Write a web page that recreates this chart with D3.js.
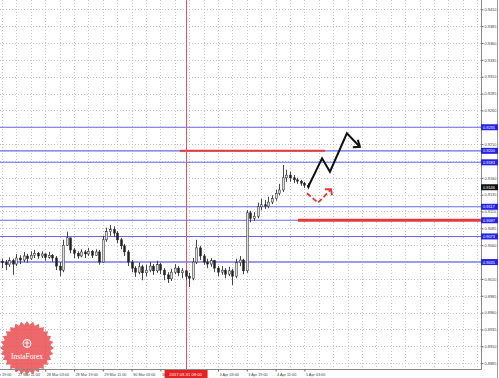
<!DOCTYPE html>
<html>
<head>
<meta charset="utf-8" />
<title>Price chart</title>
<script src="https://d3js.org/d3.v7.min.js"></script>
<style>
  body { margin: 0; background: #fff; }
  text { font-family: "Liberation Sans", Arial, sans-serif; }
</style>
</head>
<body>
<script type="text/javascript">
// 2-hour bars
var openFirst = 0.9036;
var closes = [0.9034, 0.9031, 0.9037, 0.9032, 0.9041, 0.9038, 0.9044, 0.9040, 0.9045, 0.9048,
    0.9044, 0.9047, 0.9042, 0.9045, 0.9041, 0.9029, 0.9023, 0.9060, 0.9071, 0.9053,
    0.9048, 0.9044, 0.9050, 0.9047, 0.9051, 0.9045, 0.9050, 0.9035, 0.9068, 0.9080,
    0.9083, 0.9078, 0.9068, 0.9059, 0.9050, 0.9035, 0.9026, 0.9020, 0.9028, 0.9019,
    0.9023, 0.9029, 0.9022, 0.9031, 0.9023, 0.9016, 0.9010, 0.9020, 0.9026, 0.9019,
    0.9022, 0.9014, 0.9011, 0.9035, 0.9056, 0.9044, 0.9035, 0.9032, 0.9037, 0.9026,
    0.9020, 0.9023, 0.9017, 0.9022, 0.9014, 0.9034, 0.9038, 0.9022, 0.9108, 0.9100,
    0.9103, 0.9117, 0.9120, 0.9118, 0.9124, 0.9129, 0.9137, 0.9142, 0.9160, 0.9164,
    0.9160, 0.9157, 0.9155, 0.9152, 0.9149, 0.9146];
var highs = [0.9040, 0.9038, 0.9042, 0.9040, 0.9047, 0.9045, 0.9050, 0.9047, 0.9051, 0.9053,
    0.9050, 0.9051, 0.9048, 0.9050, 0.9047, 0.9044, 0.9035, 0.9068, 0.9080, 0.9068,
    0.9056, 0.9051, 0.9054, 0.9053, 0.9056, 0.9053, 0.9054, 0.9053, 0.9074, 0.9086,
    0.9090, 0.9088, 0.9081, 0.9071, 0.9062, 0.9053, 0.9038, 0.9029, 0.9034, 0.9031,
    0.9031, 0.9035, 0.9032, 0.9037, 0.9034, 0.9026, 0.9020, 0.9025, 0.9032, 0.9029,
    0.9026, 0.9023, 0.9019, 0.9041, 0.9068, 0.9059, 0.9047, 0.9040, 0.9041, 0.9038,
    0.9029, 0.9029, 0.9026, 0.9028, 0.9025, 0.9040, 0.9044, 0.9040, 0.9112, 0.9111,
    0.9109, 0.9123, 0.9129, 0.9127, 0.9132, 0.9134, 0.9142, 0.9151, 0.9179, 0.9172,
    0.9169, 0.9164, 0.9160, 0.9157, 0.9154, 0.9152];
var lows = [0.9026, 0.9023, 0.9028, 0.9016, 0.9029, 0.9032, 0.9035, 0.9034, 0.9038, 0.9041,
    0.9040, 0.9041, 0.9037, 0.9040, 0.9035, 0.9023, 0.9014, 0.9020, 0.9059, 0.9048,
    0.9041, 0.9040, 0.9042, 0.9041, 0.9044, 0.9041, 0.9044, 0.9031, 0.9034, 0.9065,
    0.9074, 0.9072, 0.9063, 0.9054, 0.9044, 0.9029, 0.9020, 0.9013, 0.9017, 0.9008,
    0.9014, 0.9020, 0.9016, 0.9019, 0.9017, 0.9008, 0.9004, 0.9007, 0.9017, 0.9014,
    0.9011, 0.9008, 0.8998, 0.9008, 0.9032, 0.9038, 0.9031, 0.9026, 0.9028, 0.9020,
    0.9014, 0.9016, 0.9011, 0.9014, 0.9001, 0.9011, 0.9029, 0.9017, 0.9019, 0.9094,
    0.9096, 0.9100, 0.9112, 0.9114, 0.9115, 0.9121, 0.9126, 0.9134, 0.9139, 0.9154,
    0.9154, 0.9152, 0.9151, 0.9148, 0.9145, 0.9143];

var priceTicks = [0.8885, 0.8910, 0.8935, 0.8960, 0.8985, 0.9010, 0.9035, 0.9060, 0.9085, 0.9110,
    0.9135, 0.9160, 0.9185, 0.9210, 0.9235, 0.9260, 0.9285, 0.9310, 0.9335, 0.9360,
    0.9385, 0.9410];
var timeTickIdx = [-4, 4, 12, 20, 28, 36, 44, 60, 68, 76, 84];
var timeLabels = ['24 Mar 19:00', '27 Mar 11:00', '28 Mar 03:00', '28 Mar 19:00', '29 Mar 11:00',
    '30 Mar 03:00', '30 Mar 19:00', '3 Apr 03:00', '3 Apr 19:00',
    '4 Apr 11:00', '5 Apr 03:00'];

var levels = [0.9235, 0.9200, 0.9183, 0.9117, 0.9097, 0.9073, 0.9035];
// red support/resistance marks: [level, start bar, end bar]
var redLevels = [[0.9200, 49.4, 89.7], [0.9097, 82.2, 133]];
var cursorIdx = 51;
var cursorLabel = '2017.03.31 09:00';
// forecast paths
var blackPathIdx = [85, 88.9, 91.1, 95.8, 99.4];
var blackPathVal = [0.9146, 0.9189, 0.9169, 0.9226, 0.9206];
var redPathIdx = [84.7, 87.8, 91.4];
var redPathVal = [0.9137, 0.9123, 0.9143];

var width = 499;
var height = 378;
var plotRight = 481;
var plotBottom = 369.5;

var x = d3.scaleLinear().domain([0, 133]).range([2, 2 + 133 * 3.6]);
var y = d3.scaleLinear().domain([0.8885, 0.9410]).range([9.3 + 21 * 16.85, 9.3]);

var svg = d3.select('body')
    .append('svg')
    .attr('width', width)
    .attr('height', height);

// grid
var grid = svg.append('g');
grid.selectAll('.hg')
    .data(priceTicks)
    .enter()
    .append('line')
    .attr('x1', 0).attr('x2', plotRight)
    .attr('y1', d => Math.round(y(d)) + 0.5)
    .attr('y2', d => Math.round(y(d)) + 0.5)
    .attr('stroke', '#c8c8c8')
    .attr('stroke-dasharray', '1,2');

grid.selectAll('.vg')
    .data(d3.range(-4, 134, 4))
    .enter()
    .append('line')
    .attr('x1', d => Math.round(x(d)) + 0.5)
    .attr('x2', d => Math.round(x(d)) + 0.5)
    .attr('y1', 0).attr('y2', plotBottom)
    .attr('stroke', '#c8c8c8')
    .attr('stroke-dasharray', '1,2');

// logo
var logo = svg.append('g').attr('transform', 'translate(27,348)');
var star = [];
for (var k = 0; k < 56; k++) {
    var r = k % 2 === 0 ? 27 : 23.5;
    var a = k / 56 * Math.PI * 2;
    star.push([r * Math.cos(a), r * Math.sin(a)]);
}
logo.append('path')
    .attr('d', d3.line()(star) + 'Z')
    .attr('fill', '#e8474a')
    .attr('opacity', 0.82);
logo.append('circle')
    .attr('cx', 0).attr('cy', -4.5).attr('r', 4)
    .attr('fill', 'none').attr('stroke', '#fff').attr('stroke-width', 1);
logo.append('path')
    .attr('d', 'M0,-7.5V-1M-2.5,-5H2.5')
    .attr('stroke', '#fff').attr('stroke-width', 1);
logo.append('text')
    .attr('x', 0).attr('y', 11)
    .attr('text-anchor', 'middle')
    .attr('fill', '#fff')
    .style('font-family', '"Liberation Serif", serif')
    .style('font-size', '7.5px')
    .text('InstaForex');

// level lines
svg.selectAll('.lvl')
    .data(levels)
    .enter()
    .append('line')
    .attr('x1', 0).attr('x2', plotRight)
    .attr('y1', d => y(d)).attr('y2', d => y(d))
    .attr('stroke', (d, i) => i === levels.length - 1 ? '#9a9af0' : '#6868e6')
    .attr('stroke-width', (d, i) => i === levels.length - 1 ? 2 : 1.1);

svg.selectAll('.red')
    .data(redLevels)
    .enter()
    .append('line')
    .attr('x1', d => x(d[1])).attr('x2', d => Math.min(x(d[2]), plotRight))
    .attr('y1', d => y(d[0])).attr('y2', d => y(d[0]))
    .attr('stroke', '#e33b3b')
    .attr('stroke-width', (d, i) => i === 0 ? 2 : 3);

// cursor line
svg.append('line')
    .attr('x1', Math.round(x(cursorIdx)) + 0.5).attr('x2', Math.round(x(cursorIdx)) + 0.5)
    .attr('y1', 0).attr('y2', plotBottom)
    .attr('stroke', '#f05050');

// candles
var bars = svg.append('g');
closes.forEach(function (c, i) {
    var o = i === 0 ? openFirst : closes[i - 1];
    var cx = Math.round(x(i)) + 0.5;
    bars.append('line')
        .attr('x1', cx).attr('x2', cx)
        .attr('y1', y(highs[i])).attr('y2', y(lows[i]))
        .attr('stroke', '#333')
        .attr('stroke-width', 0.9);
    var top = y(Math.max(o, c));
    var h = Math.max(1, Math.abs(y(o) - y(c)));
    bars.append('rect')
        .attr('x', cx - 1).attr('y', top)
        .attr('width', 2).attr('height', h)
        .attr('fill', c >= o ? '#ddd' : '#222')
        .attr('stroke', '#222')
        .attr('stroke-width', 0.5);
});

// forecast arrows
var line = d3.line().x(d => x(d[0])).y(d => y(d[1]));
var bp = blackPathIdx.map((d, i) => [d, blackPathVal[i]]);
svg.append('path')
    .attr('d', line(bp))
    .attr('fill', 'none').attr('stroke', '#111').attr('stroke-width', 2)
    .attr('stroke-linejoin', 'miter');
var tip = bp[bp.length - 1];
svg.append('path')
    .attr('d', 'M' + (x(tip[0]) - 7) + ',' + (y(tip[1]) + 0.5) + 'L' + x(tip[0]) + ',' + y(tip[1]) +
        'L' + (x(tip[0]) - 2) + ',' + (y(tip[1]) - 7))
    .attr('fill', 'none').attr('stroke', '#111').attr('stroke-width', 2);

var rp = redPathIdx.map((d, i) => [d, redPathVal[i]]);
svg.append('path')
    .attr('d', line(rp))
    .attr('fill', 'none').attr('stroke', '#ee3333').attr('stroke-width', 1.8)
    .attr('stroke-dasharray', '5,2.5');
var rtip = rp[rp.length - 1];
svg.append('path')
    .attr('d', 'M' + (x(rtip[0]) - 6) + ',' + y(rtip[1]) + 'L' + x(rtip[0]) + ',' + y(rtip[1]) +
        'L' + (x(rtip[0]) + 1) + ',' + (y(rtip[1]) + 6))
    .attr('fill', 'none').attr('stroke', '#ee3333').attr('stroke-width', 1.8);

// frame
svg.append('path')
    .attr('d', 'M0,' + plotBottom + 'H' + (plotRight + 0.5) + 'V0')
    .attr('fill', 'none').attr('stroke', '#888');
svg.append('line')
    .attr('x1', 497.5).attr('x2', 497.5).attr('y1', 0).attr('y2', height)
    .attr('stroke', '#999');

// price axis
var yAxis = svg.append('g')
    .attr('transform', 'translate(' + (plotRight + 0.5) + ',0)')
    .call(d3.axisRight(y).tickValues(priceTicks).tickFormat(d3.format('.4f')).tickSize(2).tickPadding(1));
yAxis.select('.domain').remove();
yAxis.selectAll('line').attr('stroke', '#666');
yAxis.selectAll('text').style('font-size', '3.9px').attr('fill', '#444');

// time axis
var xAxis = svg.append('g')
    .attr('transform', 'translate(0,' + plotBottom + ')')
    .call(d3.axisBottom(x).tickValues(timeTickIdx).tickFormat((d, i) => timeLabels[i]).tickSize(2).tickPadding(2));
xAxis.select('.domain').remove();
xAxis.selectAll('line').attr('stroke', '#666');
xAxis.selectAll('text')
    .attr('text-anchor', 'start')
    .attr('dx', 1)
    .style('font-size', '3.8px').attr('fill', '#444');

// level tags
var tags = svg.selectAll('.tag')
    .data(levels)
    .enter()
    .append('g')
    .attr('transform', d => 'translate(481,' + y(d) + ')');
tags.append('rect')
    .attr('x', 0).attr('y', -3).attr('width', 17).attr('height', 6)
    .attr('fill', '#2323e8');
tags.append('text')
    .attr('x', 2).attr('y', 1.5)
    .attr('fill', '#fff')
    .style('font-size', '3.9px')
    .text(d => d3.format('.4f')(d));

// last price tag
var last = closes[closes.length - 1];
var lt = svg.append('g').attr('transform', 'translate(481,' + y(last) + ')');
lt.append('rect').attr('x', 0).attr('y', -3).attr('width', 17).attr('height', 6).attr('fill', '#111');
lt.append('text').attr('x', 2).attr('y', 1.5).attr('fill', '#fff').style('font-size', '3.9px')
    .text(d3.format('.4f')(last));

// cursor time tag (covers the 31 Mar label, as in the terminal)
var ct = svg.append('g').attr('transform', 'translate(' + x(cursorIdx) + ',' + plotBottom + ')');
ct.append('rect').attr('x', -21).attr('y', 0.5).attr('width', 43).attr('height', 8).attr('fill', '#e82020');
ct.append('text').attr('x', 0).attr('y', 6).attr('text-anchor', 'middle').attr('fill', '#fff')
    .style('font-size', '4.2px').text(cursorLabel);
</script>
</body>
</html>
